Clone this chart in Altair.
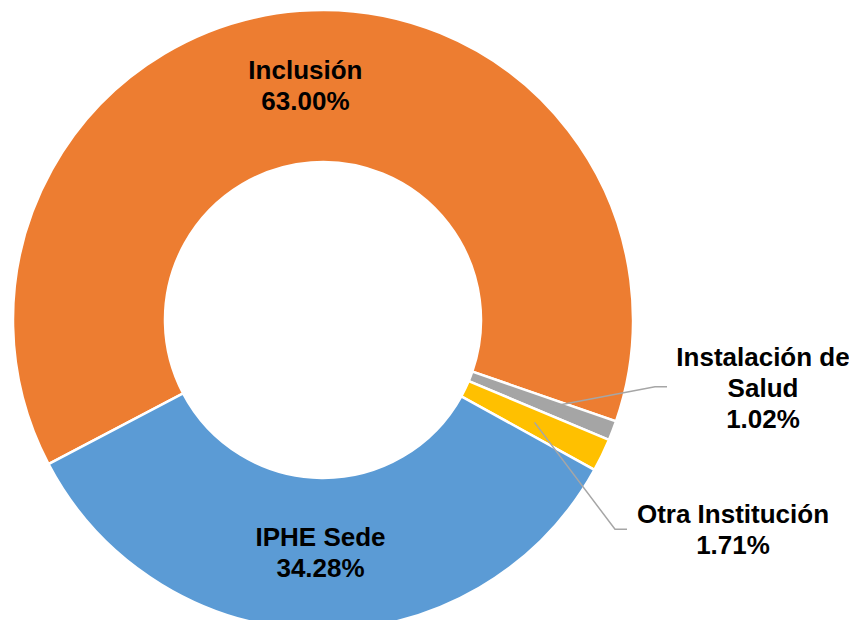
import altair as alt
import pandas as pd
import numpy as np

# ---- data ----
categories = ["Inclusión", "Instalación de Salud", "Otra Institución", "IPHE Sede"]
label_lines = ["Inclusión", "Instalación de\nSalud", "Otra Institución", "IPHE Sede"]
values = [63.00, 1.02, 1.71, 34.28]
colors = ["#ED7D31", "#A5A5A5", "#FFC000", "#5B9BD5"]

# ---- layout ----
W, H = 841, 612
CX, CY = 315, 312
R_OUT, R_IN = 310, 158
START = np.deg2rad(242.3)
FONT = "Liberation Sans"
FS = 26
LH = 31

df = pd.DataFrame({"cat": categories, "label": label_lines, "value": values,
                   "order": list(range(len(values)))})
df["pct"] = df["value"].map(lambda v: f"{v:.2f}%")
df["full"] = df["label"] + "\n" + df["pct"]
df["inner"] = np.where(df["value"] > 10, df["full"], "")

base = alt.Chart(df).encode(
    theta=alt.Theta("value:Q", stack=True,
                    scale=alt.Scale(range=[float(START), float(START + 2 * np.pi)])),
    order=alt.Order("order:Q"),
)

arcs = base.mark_arc(outerRadius=R_OUT, innerRadius=R_IN, stroke="white",
                     strokeWidth=2.5).encode(
    color=alt.Color("cat:N", scale=alt.Scale(domain=categories, range=colors), legend=None),
    x=alt.value(CX), y=alt.value(CY),
)

inner_text = base.mark_text(radius=(R_OUT + R_IN) / 2, font=FONT, fontSize=FS,
                            fontWeight="bold", color="black", lineBreak="\n",
                            lineHeight=LH, align="center", baseline="middle",
                            dy=-LH / 2).encode(
    text="inner:N", x=alt.value(CX), y=alt.value(CY),
)

# leader lines for small slices (start from slice mid-angle)
total = sum(values)
cum = np.cumsum(values)
mid = START + 2 * np.pi * (cum - np.array(values) / 2) / total
lead_r = {1: 243, 2: 235}
elbow = {1: (647, 378.7), 2: (607, 521.3)}
lend = {1: (659, 378.7), 2: (619, 521.3)}
label_pos = {1: (755, 381), 2: (725, 522)}

rows = []
lab_rows = []
for i in (1, 2):
    sx = CX + lead_r[i] * np.sin(mid[i])
    sy = CY - lead_r[i] * np.cos(mid[i])
    rows.append({"cat": categories[i], "pt": 0, "x": sx, "y": sy})
    rows.append({"cat": categories[i], "pt": 1, "x": elbow[i][0], "y": elbow[i][1]})
    rows.append({"cat": categories[i], "pt": 2, "x": lend[i][0], "y": lend[i][1]})
    txt = df["full"][i]
    n = txt.count("\n") + 1
    lab_rows.append({"x": label_pos[i][0], "y": label_pos[i][1] - (n - 1) * LH / 2, "t": txt})
ldf = pd.DataFrame(rows)
tdf = pd.DataFrame(lab_rows)

leaders = alt.Chart(ldf).mark_line(color="#A6A6A6", strokeWidth=1.5).encode(
    x=alt.X("x:Q", scale=None, axis=None),
    y=alt.Y("y:Q", scale=None, axis=None),
    detail="cat:N",
    order="pt:Q",
)

outer_text = alt.Chart(tdf).mark_text(font=FONT, fontSize=FS, fontWeight="bold",
                                      color="black", lineBreak="\n", lineHeight=LH,
                                      align="center", baseline="middle").encode(
    x=alt.X("x:Q", scale=None, axis=None),
    y=alt.Y("y:Q", scale=None, axis=None),
    text="t:N",
)

chart = alt.layer(arcs, inner_text, leaders, outer_text).properties(
    width=W, height=H, padding=0, autosize=alt.AutoSizeParams(type="none"),
    background="white",
).configure_view(stroke=None)

chart.save("out.html", embed_options={"renderer": "svg", "actions": False})
